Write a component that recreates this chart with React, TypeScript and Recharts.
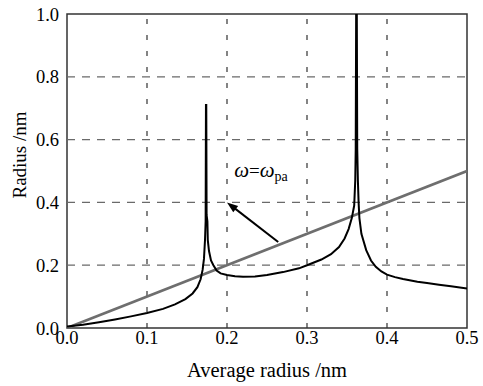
import React from 'react';
import { LineChart, Line, XAxis, YAxis, ReferenceLine, ReferenceArea, ReferenceDot } from 'recharts';

const xTicks = [0, 0.1, 0.2, 0.3, 0.4, 0.5];
const yTicks = [0, 0.2, 0.4, 0.6, 0.8, 1.0];

const curveX = [0, 0.02, 0.04, 0.06, 0.08, 0.1, 0.12, 0.135, 0.148, 0.157, 0.163, 0.167, 0.1695, 0.1712, 0.1725, 0.1733, 0.1737, 0.1741, 0.1745, 0.1755, 0.176, 0.1775, 0.18, 0.183, 0.187, 0.192, 0.2, 0.21, 0.22, 0.235, 0.25, 0.27, 0.29, 0.3, 0.318, 0.33, 0.34, 0.347, 0.352, 0.356, 0.359, 0.3603, 0.3609, 0.3615, 0.3622, 0.3628, 0.3636, 0.3645, 0.3655, 0.368, 0.374, 0.38, 0.386, 0.393, 0.4, 0.41, 0.42, 0.438, 0.45, 0.465, 0.48, 0.5];
const curveY = [0.005, 0.01, 0.018, 0.027, 0.037, 0.048, 0.061, 0.075, 0.092, 0.11, 0.13, 0.155, 0.185, 0.22, 0.28, 0.34, 0.71, 0.71, 0.36, 0.34, 0.28, 0.245, 0.215, 0.2, 0.183, 0.174, 0.169, 0.165, 0.163, 0.164, 0.169, 0.178, 0.19, 0.2, 0.218, 0.235, 0.258, 0.285, 0.315, 0.35, 0.39, 0.47, 0.57, 1.05, 1.05, 0.57, 0.47, 0.4, 0.35, 0.3, 0.248, 0.215, 0.195, 0.18, 0.17, 0.162, 0.156, 0.147, 0.143, 0.138, 0.133, 0.126];

const lineX = [0, 0.5];
const lineY = [0, 0.5];

const arrowFrom = { x: 0.264, y: 0.274 };
const arrowTo = { x: 0.2, y: 0.4 };
const labelPos = { x: 0.209, y: 0.481 };

const curveData = curveX.map((x, i) => ({ x, y: curveY[i] }));
const lineData = lineX.map((x, i) => ({ x, y: lineY[i] }));

const FONT = "'Liberation Serif', 'Times New Roman', 'DejaVu Serif', serif";
const fmt = (v: number) => v.toFixed(1);

const Arrow = (props: any) => {
  const { x1, y1, x2, y2 } = props;
  const dx = x2 - x1;
  const dy = y2 - y1;
  const len = Math.sqrt(dx * dx + dy * dy);
  const ux = dx / len;
  const uy = dy / len;
  const hl = 11;
  const hw = 4;
  const bx = x2 - ux * hl;
  const by = y2 - uy * hl;
  const pts = `${x2},${y2} ${bx - uy * hw},${by + ux * hw} ${bx + uy * hw},${by - ux * hw}`;
  return (
    <g>
      <line x1={x1} y1={y1} x2={bx + ux * 2} y2={by + uy * 2} stroke="#000" strokeWidth={2} />
      <polygon points={pts} fill="#000" />
    </g>
  );
};

const LabelShape = (props: any) => {
  const { cx, cy } = props;
  return (
    <text x={cx} y={cy} style={{ fontFamily: FONT }} fill="#000">
      <tspan fontSize={21} fontStyle="italic">ω</tspan>
      <tspan fontSize={19}>=</tspan>
      <tspan fontSize={21} fontStyle="italic">ω</tspan>
      <tspan fontSize={14} dy={4}>pa</tspan>
    </text>
  );
};

export default function App() {
  return (
    <div style={{ width: 483, height: 386, background: '#fff', fontFamily: FONT }}>
      <style>{`body{margin:0;} svg text{font-family:${FONT};}`}</style>
      <LineChart width={483} height={386} margin={{ top: 14, right: 16, left: 0, bottom: 0 }}>
        <XAxis
          type="number"
          dataKey="x"
          domain={[0, 0.5]}
          ticks={xTicks}
          tickFormatter={fmt}
          tickLine={false}
          axisLine={false}
          tickSize={0}
          tickMargin={3}
          height={58}
          allowDataOverflow
          tick={{ fill: '#000', fontSize: 18.5 }}
          label={{
            content: (p: any) => {
              const vb = p.viewBox;
              return (
                <text x={vb.x + vb.width / 2} y={vb.y + 49} textAnchor="middle" fontSize={20.5} fill="#000">
                  Average radius /nm
                </text>
              );
            },
          }}
        />
        <YAxis
          type="number"
          dataKey="y"
          domain={[0, 1]}
          ticks={yTicks}
          tickFormatter={fmt}
          tickLine={false}
          axisLine={false}
          tickSize={0}
          tickMargin={8}
          width={67}
          allowDataOverflow
          tick={{ fill: '#000', fontSize: 18.5 }}
          label={{
            content: (p: any) => {
              const vb = p.viewBox;
              const cx = vb.x + 26;
              const cy = vb.y + vb.height / 2 - 16;
              return (
                <text x={cx} y={cy} transform={`rotate(-90 ${cx} ${cy})`} textAnchor="middle" fontSize={19} fill="#000">
                  Radius /nm
                </text>
              );
            },
          }}
        />
        {yTicks.slice(1, -1).map((t) => (
          <ReferenceLine key={'h' + t} y={t} stroke="#6a6a6a" strokeWidth={1.2} strokeDasharray="8 7" />
        ))}
        {xTicks.slice(1, -1).map((t) => (
          <ReferenceLine key={'v' + t} x={t} stroke="#333" strokeWidth={1.2} strokeDasharray="5 11" />
        ))}
        <Line data={lineData} dataKey="y" stroke="#6e6e6e" strokeWidth={2.6} dot={false} isAnimationActive={false} type="linear" />
        <Line data={curveData} dataKey="y" stroke="#000" strokeWidth={2} dot={false} isAnimationActive={false} type="linear" />
        <ReferenceLine segment={[arrowFrom, arrowTo]} shape={Arrow} />
        <ReferenceDot x={labelPos.x} y={labelPos.y} r={0} shape={LabelShape} />
        <ReferenceArea x1={0} x2={0.5} y1={0} y2={1} fill="none" stroke="#333" strokeWidth={1.5} fillOpacity={0} />
      </LineChart>
    </div>
  );
}
